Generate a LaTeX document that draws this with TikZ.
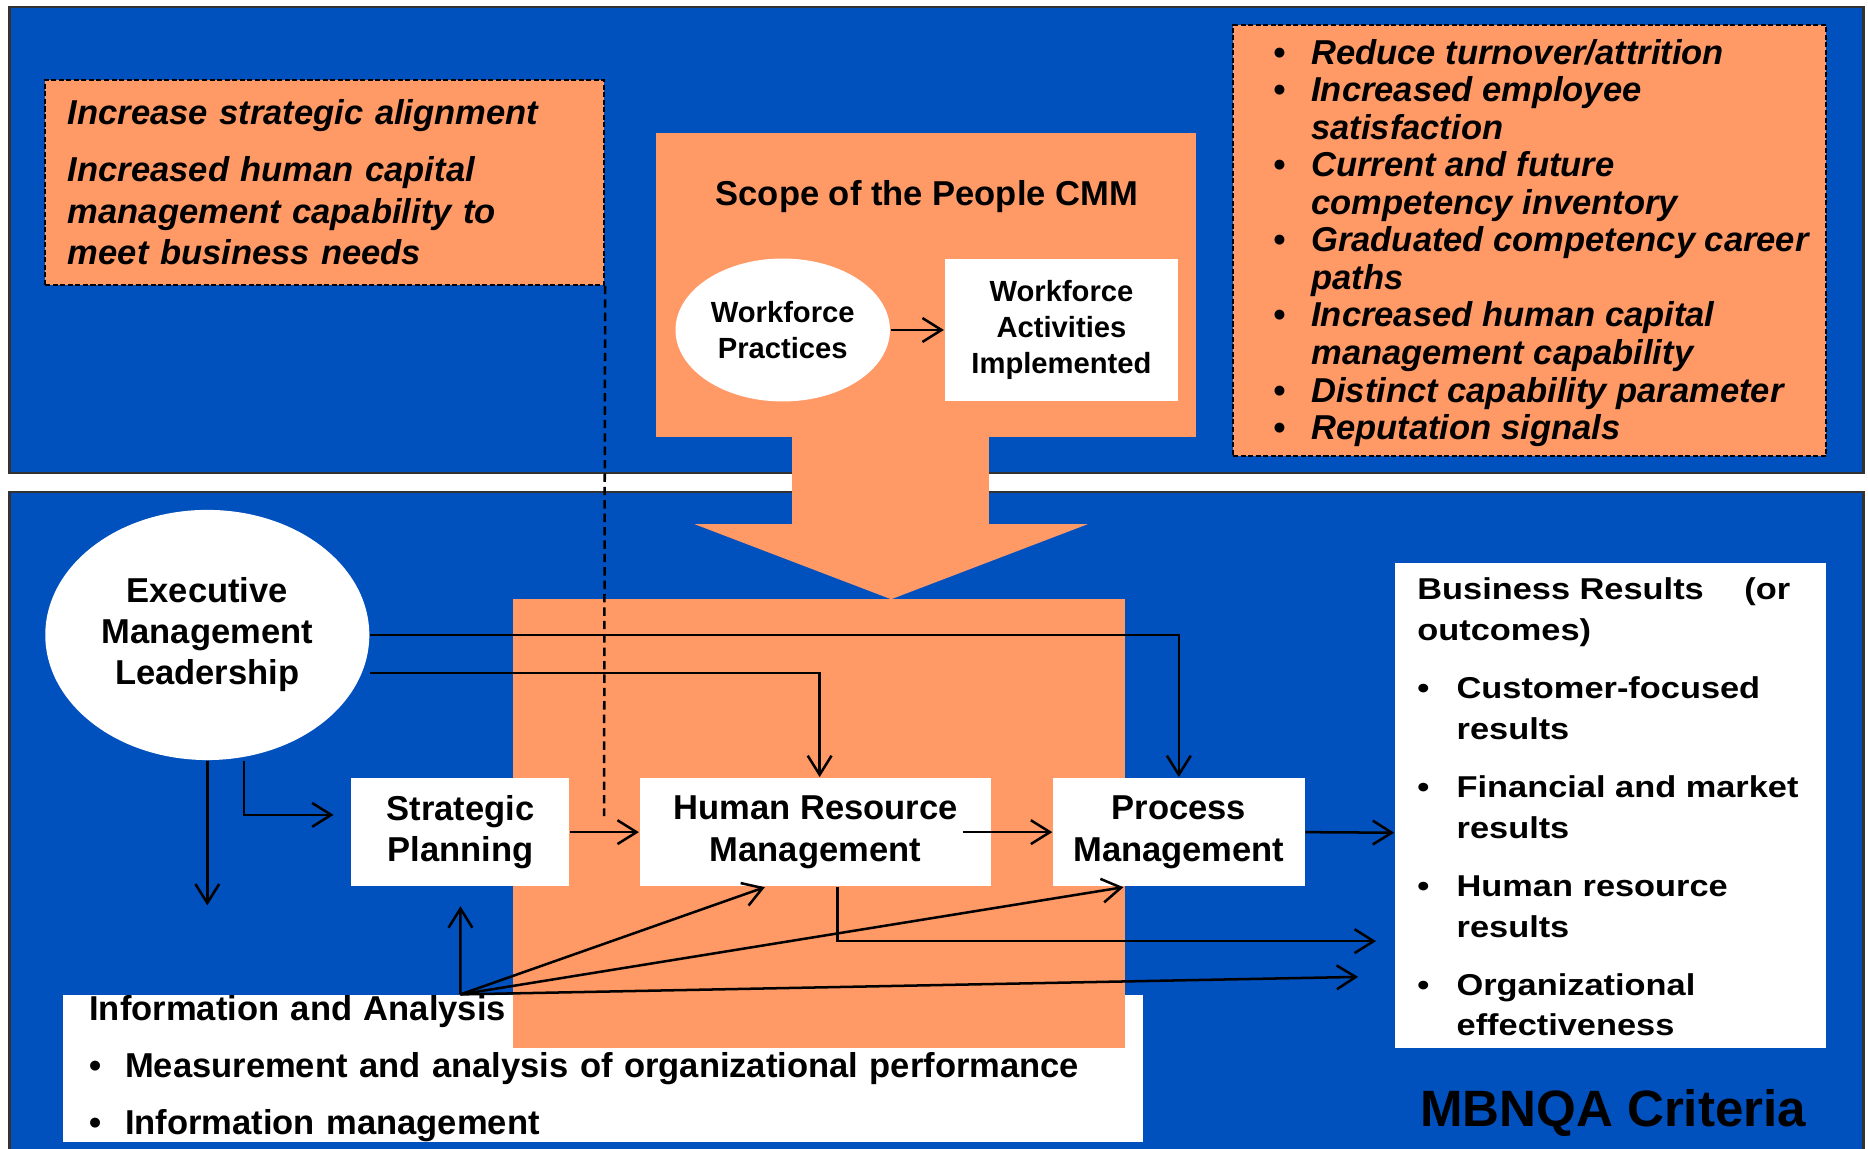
\documentclass[tikz,border=0pt]{standalone}
\usepackage{fontspec}
\setmainfont{Liberation Sans}
\newfontfamily\widefont[FakeStretch=1.14]{Liberation Sans}
\usetikzlibrary{arrows.meta,shapes.geometric}
\definecolor{panelblue}{RGB}{0,80,190}
\definecolor{salmon}{RGB}{255,153,102}
\newcommand{\bul}[1]{\makebox[#1][l]{\textbullet}}
\begin{document}
\begin{tikzpicture}[
  panel/.style={draw=black!80, line width=0.6pt, fill=panelblue},
  goal/.style={draw, fill=salmon, line width=0.55pt, dash pattern=on 1.2pt off 0.6pt},
  box/.style={fill=white, align=center, inner sep=0pt, font=\fontsize{8.25}{9.96}\selectfont\bfseries},
  arr/.style={line width=0.6pt, -{Straight Barb[length=1.6mm,width=2mm]}}
]
\useasboundingbox (0,0) rectangle (15.68,9.64);
\fill[white] (0,0) rectangle (15.68,9.64);
\draw[panel] (0.08,9.58) rectangle (15.64,5.67);
\draw[panel] (0.08,-0.2) rectangle (15.64,5.51);
\node[goal, minimum width=4.69cm, minimum height=1.72cm, text width=4.31cm, inner xsep=0.19cm, align=left, font=\fontsize{8.25}{9.96}\selectfont\bfseries\itshape] (goals) at (2.725,8.11) {Increase strategic alignment\\[3.7pt] Increased human capital\\ management capability to\\ meet business needs};
\node[goal, minimum width=4.98cm, minimum height=3.62cm] (gains) at (12.84,7.62) {};
\node[anchor=west, align=left, inner sep=0pt, font=\fontsize{8.25}{8.96}\selectfont\bfseries\itshape] (gainlist) at (10.68,7.60) {\bul{0.32cm}Reduce turnover/attrition\\ \bul{0.32cm}Increased employee\\ \hspace*{0.32cm}satisfaction\\ \bul{0.32cm}Current and future\\ \hspace*{0.32cm}competency inventory\\ \bul{0.32cm}Graduated competency career\\ \hspace*{0.32cm}paths\\ \bul{0.32cm}Increased human capital\\ \hspace*{0.32cm}management capability\\ \bul{0.32cm}Distinct capability parameter\\ \bul{0.32cm}Reputation signals};
\node[fill=salmon, minimum width=4.53cm, minimum height=2.55cm] (scope) at (7.775,7.245) {};
\node[font=\fontsize{8.25}{9.96}\selectfont\bfseries] (scopetitle) at (7.78,7.99) {Scope of the People CMM};
\node[box, ellipse, minimum width=1.80cm, minimum height=1.20cm, font=\fontsize{6.97}{8.54}\selectfont\bfseries] (wp) at (6.57,6.87) {Workforce\\Practices};
\node[box, minimum width=1.96cm, minimum height=1.20cm, font=\fontsize{6.97}{8.54}\selectfont\bfseries] (wai) at (8.91,6.87) {Workforce\\Activities\\Implemented};
\draw[arr] (wp) -- (wai);
\node[fill=white, minimum width=9.06cm, minimum height=1.20cm, text width=8.62cm, inner xsep=0.22cm, inner ysep=0pt, align=left, font=\fontsize{8.25}{13.66}\selectfont\bfseries] (info) at (5.06,0.67) {Information and Analysis\\ \bul{0.30cm}Measurement and analysis of organizational performance\\ \bul{0.30cm}Information management};
\fill[salmon] (4.31,0.84) rectangle (9.44,4.61);
\fill[salmon] (6.65,6.0) -- (8.30,6.0) -- (8.30,5.24) -- (9.13,5.24) -- (7.48,4.61) -- (5.83,5.24) -- (6.65,5.24) -- cycle;
\node[box, ellipse, minimum width=2.72cm, minimum height=2.10cm, font=\fontsize{8.25}{9.8}\selectfont\bfseries] (exec) at (1.74,4.31) {Executive\\Management\\Leadership};
\node[box, minimum width=1.83cm, minimum height=0.91cm] (sp) at (3.865,2.655) {Strategic\\Planning};
\node[box, minimum width=2.95cm, minimum height=0.91cm] (hrm) at (6.845,2.655) {Human Resource\\Management};
\node[box, minimum width=2.11cm, minimum height=0.91cm] (pm) at (9.895,2.655) {Process\\Management};
\node[fill=white, minimum width=3.62cm, minimum height=4.07cm] (res) at (13.52,2.875) {};
\node[anchor=west, align=left, inner sep=0pt, font=\widefont\fontsize{7.2}{9.67}\selectfont\bfseries] (reslist) at (11.89,2.865) {\hbox to 3.13cm{Business Results\hfill(or}\\ outcomes)\\[4.27pt] \bul{0.33cm}Customer-focused\\ \hspace*{0.33cm}results\\[4.27pt] \bul{0.33cm}Financial and market\\ \hspace*{0.33cm}results\\[4.27pt] \bul{0.33cm}Human resource\\ \hspace*{0.33cm}results\\[4.27pt] \bul{0.33cm}Organizational\\ \hspace*{0.33cm}effectiveness};
\node[font=\fontsize{12.2}{14}\selectfont\bfseries] (mbnqa) at (13.54,0.30) {MBNQA Criteria};
\coordinate (dashend) at (5.07,2.79);
\coordinate (leadend) at (1.74,2.04);
\coordinate (planend) at (2.80,2.80);
\coordinate (hrout) at (11.55,1.74);
\coordinate (infoout) at (11.40,1.44);
\coordinate (infosrc) at ([xshift=-1.195cm]info.north);
\draw[line width=0.6pt, dash pattern=on 2pt off 1.2pt] (goals.south east) -- (dashend);
\draw[arr] (exec.east) -| (pm.north);
\draw[arr] ([yshift=-0.32cm]exec.east) -| ([xshift=0.035cm]hrm.north);
\draw[arr] (exec.south) -- (leadend);
\draw[arr] ([xshift=0.31cm]exec.south) |- (planend);
\draw[arr] (sp.east) -- (hrm.west);
\draw[arr] ([xshift=-0.245cm]hrm.east) -- (pm.west);
\draw[arr] (pm.east) -- ([yshift=-0.225cm]res.west);
\draw[arr] ([xshift=0.185cm]hrm.south) |- (hrout);
\draw[arr] (infosrc) -- ([yshift=-0.16cm]sp.south);
\draw[arr] (infosrc) -- ([xshift=-0.425cm]hrm.south);
\draw[arr] (infosrc) -- ([xshift=-0.465cm]pm.south);
\draw[arr] (infosrc) -- (infoout);
\end{tikzpicture}
\end{document}
